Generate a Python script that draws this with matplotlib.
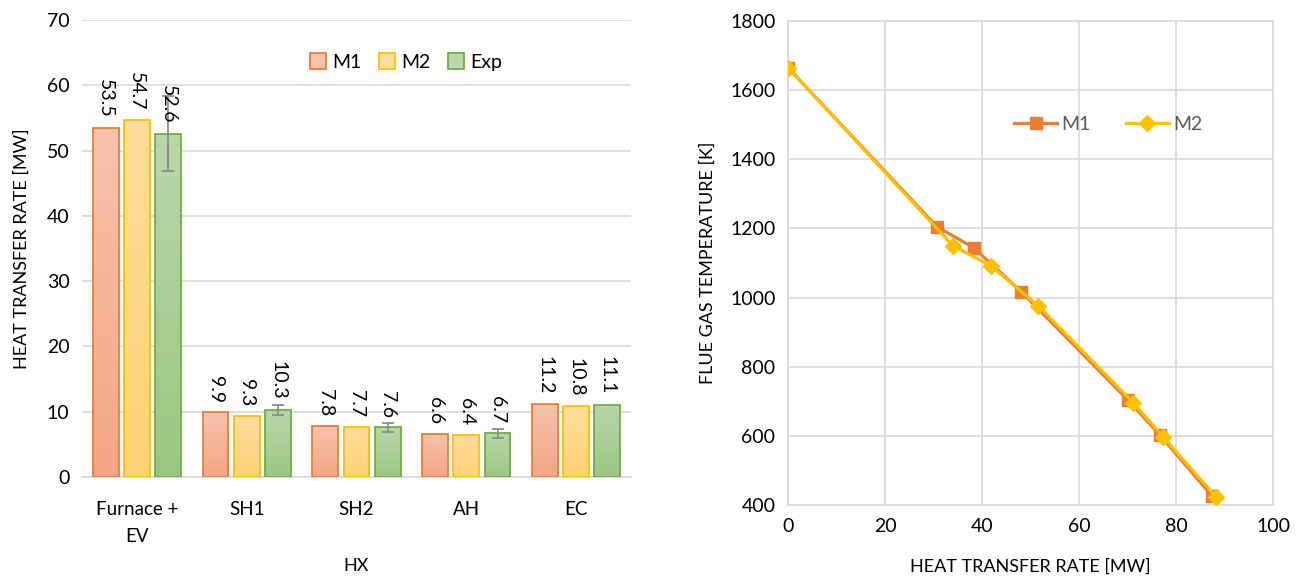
import matplotlib
matplotlib.use("Agg")
import matplotlib.pyplot as plt
import numpy as np
from matplotlib.colors import LinearSegmentedColormap
from matplotlib.patches import Patch

plt.rcParams['font.family'] = ['Lato', 'DejaVu Sans']

# left panel: heat transfer per exchanger
categories = ['Furnace +\nEV', 'SH1', 'SH2', 'AH', 'EC']
m1_vals = [53.5, 9.9, 7.8, 6.6, 11.2]
m2_vals = [54.7, 9.3, 7.7, 6.4, 10.8]
exp_vals = [52.6, 10.3, 7.6, 6.7, 11.1]
exp_err = [5.7, 0.75, 0.7, 0.7, 0.0]

# right panel: flue gas temperature vs cumulative heat transfer
m1_q = [0.0, 30.7, 38.3, 48.1, 70.0, 76.7, 87.5]
m1_t = [1665, 1205, 1144, 1017, 705, 602, 425]
m2_q = [0.0, 34.0, 41.8, 51.6, 71.2, 77.4, 88.3]
m2_t = [1665, 1150, 1092, 976, 696, 596, 423]

# colours (edge, gradient top, gradient bottom)
styles = {
    'M1': ('#ED7D31', '#F7C3AD', '#F4A584'),
    'M2': ('#FFC000', '#FFDD9C', '#FFD276'),
    'Exp': ('#70AD47', '#B9D7AA', '#9CC783'),
}
grid_col = '#D9D9D9'
txt_col = '#000000'

fig = plt.figure(figsize=(12.99, 5.77), dpi=100)
ax1 = fig.add_axes([82 / 1299, 1 - 477 / 577, 549 / 1299, 457 / 577])
ax2 = fig.add_axes([788 / 1299, 1 - 505 / 577, 485 / 1299, 484 / 577])

# ---- bars ----
x = np.arange(len(categories))
width = 0.235
offset = 0.285
series = [('M1', m1_vals), ('M2', m2_vals), ('Exp', exp_vals)]
for i, (name, vals) in enumerate(series):
    edge, top, bot = styles[name]
    cmap = LinearSegmentedColormap.from_list(name, [bot, top])
    bars = ax1.bar(x + (i - 1) * offset, vals, width, facecolor='none',
                   edgecolor=edge, linewidth=1.3, zorder=3)
    for b in bars:
        bx, by = b.get_x(), b.get_y()
        bw, bh = b.get_width(), b.get_height()
        grad = np.linspace(0, 1, 256).reshape(-1, 1)
        im = ax1.imshow(grad, extent=[bx, bx + bw, by, by + bh], origin='lower',
                        aspect='auto', cmap=cmap, zorder=2)
        im.set_clip_path(b)
    for xi, v in zip(x + (i - 1) * offset, vals):
        ax1.annotate(f'{v:.1f}', (xi, v), xytext=(0, 7), textcoords='offset points',
                     rotation=270, ha='center', va='bottom', fontsize=14,
                     color=txt_col, zorder=5)

ex = x + offset
mask = np.array(exp_err) > 0
ax1.errorbar(ex[mask], np.array(exp_vals)[mask], yerr=np.array(exp_err)[mask],
             fmt='none', ecolor='#8C8C8C', elinewidth=1.3, capsize=4, capthick=1.3,
             zorder=4)

ax1.set_xlim(-0.5, len(categories) - 0.5)
ax1.set_ylim(0, 70)
ax1.set_yticks(np.arange(0, 71, 10))
ax1.set_xticks(x)
ax1.set_xticklabels(categories, fontsize=13.5, color=txt_col, linespacing=1.75)
ax1.tick_params(axis='y', labelsize=14, colors=txt_col, length=0, pad=9)
ax1.tick_params(axis='x', length=0, pad=17)
ax1.yaxis.grid(True, color=grid_col, linewidth=1.2, zorder=0)
ax1.set_axisbelow(True)
for s in ['top', 'right', 'left']:
    ax1.spines[s].set_visible(False)
ax1.spines['bottom'].set_color(grid_col)
ax1.spines['bottom'].set_linewidth(1.2)
ax1.set_ylabel('HEAT TRANSFER RATE [MW]', fontsize=13, color=txt_col, labelpad=12)
ax1.set_xlabel('HX', fontsize=13, color=txt_col, labelpad=9)

handles = [Patch(facecolor=styles[n][1], edgecolor=styles[n][0], linewidth=1.3, label=n)
           for n in ['M1', 'M2', 'Exp']]
ax1.legend(handles=handles, loc='upper center', bbox_to_anchor=(0.59, 0.965), ncol=3,
           frameon=False, fontsize=14, handlelength=0.85, handleheight=0.85,
           handletextpad=0.3, columnspacing=0.9)

# ---- lines ----
ax2.plot(m1_q, m1_t, '-', color='#ED7D31', linewidth=2.3, marker='s', markersize=8.5,
         label='M1', zorder=3)
ax2.plot(m2_q, m2_t, '-', color='#FFC000', linewidth=2.3, marker='D', markersize=8,
         label='M2', zorder=4)
ax2.set_xlim(0, 100)
ax2.set_ylim(400, 1800)
ax2.set_xticks(np.arange(0, 101, 20))
ax2.set_yticks(np.arange(400, 1801, 200))
ax2.grid(True, color=grid_col, linewidth=1.2, zorder=0)
ax2.set_axisbelow(True)
for s in ax2.spines.values():
    s.set_color(grid_col)
    s.set_linewidth(1.2)
ax2.tick_params(labelsize=14, colors=txt_col, length=0, pad=9)
ax2.set_xlabel('HEAT TRANSFER RATE [MW]', fontsize=13, color=txt_col, labelpad=17)
ax2.set_ylabel('FLUE GAS TEMPERATURE [K]', fontsize=13, color=txt_col, labelpad=10)
leg = ax2.legend(loc='upper center', bbox_to_anchor=(0.66, 0.84), ncol=2, frameon=False,
                 fontsize=14, handlelength=2.2, handletextpad=0.2, columnspacing=1.85)
for t in leg.get_texts():
    t.set_color('#595959')

fig.savefig('out.png', dpi=100)
